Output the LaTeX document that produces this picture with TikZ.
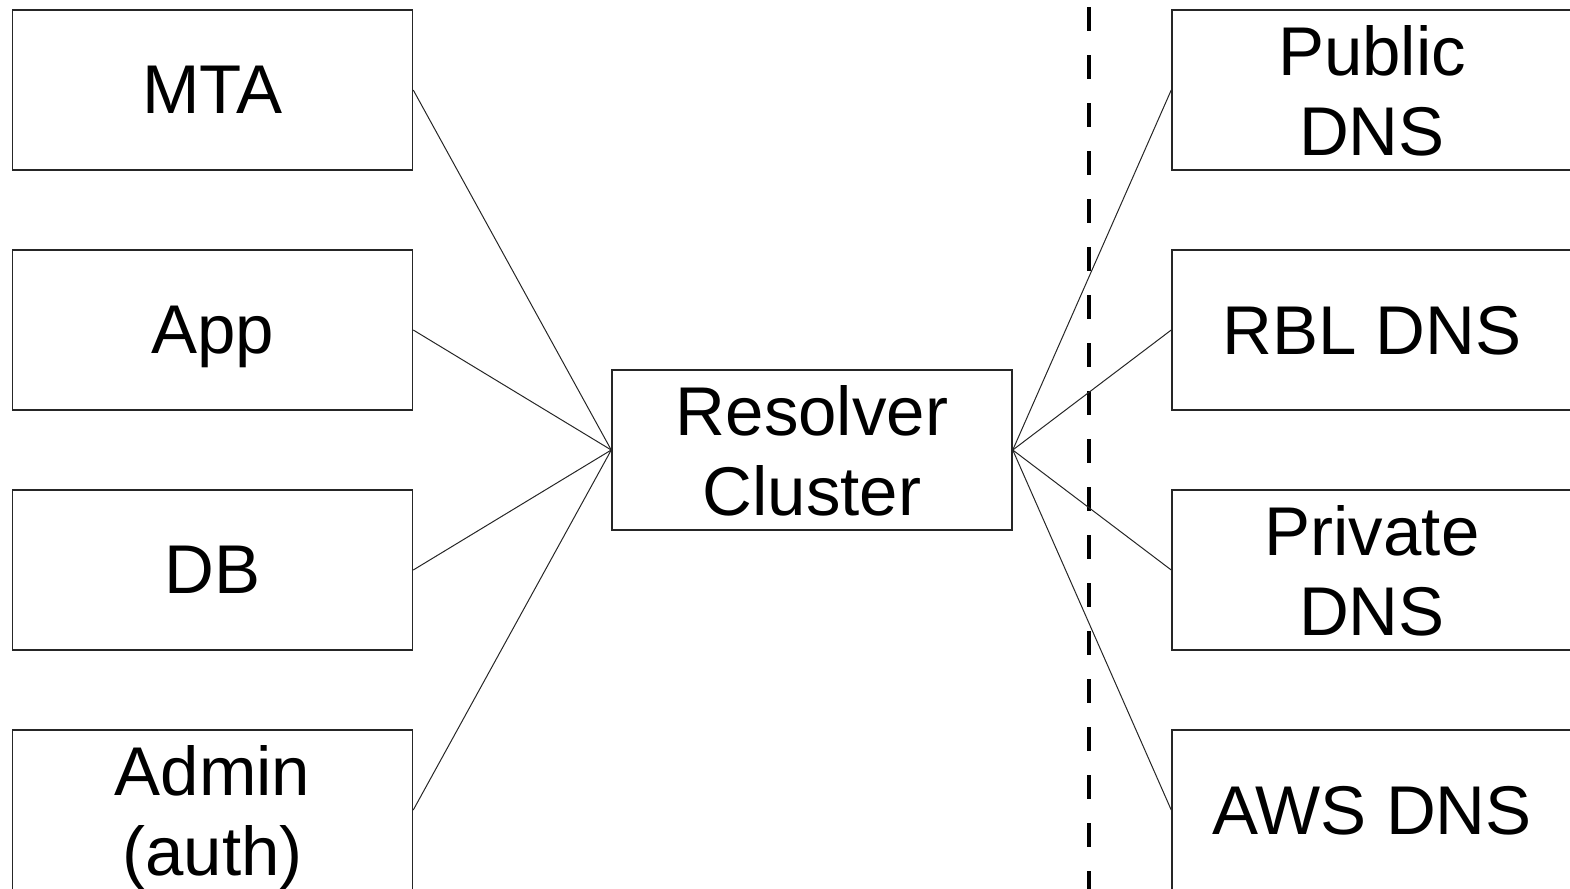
\documentclass[tikz,border=0pt]{standalone}
\usepackage{fontspec}
\setmainfont{Liberation Sans}
\begin{document}
\begin{tikzpicture}[x=0.5pt,y=-0.5pt,
  box/.style={draw=black!85,line width=0.75pt,minimum width=200pt,minimum height=80pt,inner sep=0pt,align=center,text depth=0pt,font=\fontsize{34.5}{40}\selectfont},
  link/.style={draw=black!85,line width=0.5pt},
  sep/.style={draw=black,line width=2pt,dash pattern=on 12pt off 12pt}]
\useasboundingbox (0,0) rectangle (1570,889);
\begin{scope}
\clip (0,0) rectangle (1570,889);
\node[box] (mta) at (212.5,90) {MTA};
\node[box] (app) at (212.5,330) {App};
\node[box] (db) at (212.5,570) {DB};
\node[box] (admin) at (212.5,810) {Admin\\(auth)};
\node[box] (res) at (812,450) {Resolver\\Cluster};
\node[box] (pub) at (1372,90) {Public\\DNS};
\node[box] (rbl) at (1372,330) {RBL DNS};
\node[box] (priv) at (1372,570) {Private\\DNS};
\node[box] (aws) at (1372,810) {AWS DNS};
\coordinate (dtop) at (1089,7);
\coordinate (dbot) at (1089,895);
\draw[sep] (dtop) -- (dbot);
\foreach \n in {mta,app,db,admin} \draw[link] (\n.east) -- (res.west);
\foreach \n in {pub,rbl,priv,aws} \draw[link] (res.east) -- (\n.west);
\end{scope}
\end{tikzpicture}
\end{document}
